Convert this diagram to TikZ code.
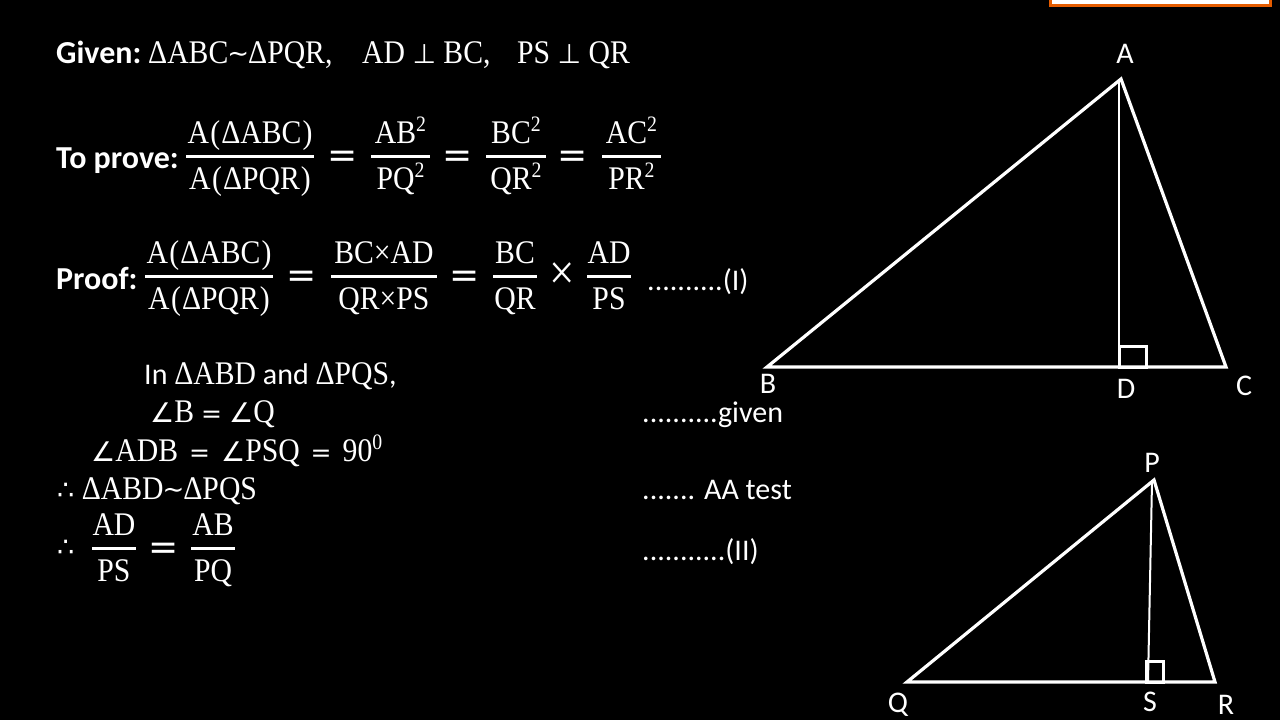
\documentclass[tikz,border=0pt]{standalone}
\usepackage{fontspec}
\setmainfont{Carlito}
\newfontfamily\camf[FakeStretch=0.90]{Liberation Serif}
\newfontfamily\symf{DejaVu Sans}
\newcommand{\cam}{\fontsize{33}{36}\selectfont\camf}
\newcommand{\sym}[1]{{\fontsize{27}{28}\selectfont\symf #1}}
\newcommand{\sq}[1]{\raisebox{12pt}{\fontsize{22}{22}\selectfont #1}}
\newcommand{\ar}[1]{A\kern1.5pt(\kern1pt#1\kern1pt)}
\newcommand{\simi}{\raisebox{1pt}{{\fontsize{26}{28}\selectfont\symf\kern-1pt∼\kern-1pt}}}
\newcommand{\eqs}{{\fontsize{25}{25}\selectfont\symf =}}
\tikzset{
  mth/.style={text=white,inner sep=0pt,font=\cam},
  opr/.style={text=white,inner sep=0pt,font=\fontsize{36}{38}\selectfont\symf},
  tms/.style={text=white,inner sep=0pt,font=\fontsize{50}{50}\selectfont\camf},
  txt/.style={text=white,inner sep=0pt,font=\fontsize{30}{34}\selectfont,anchor=base west},
  bld/.style={txt,font=\fontsize{32}{34}\selectfont\bfseries},
  lbl/.style={text=white,inner sep=0pt,font=\fontsize{30}{32}\selectfont,anchor=center},
  bar/.style={white,line width=3pt},
  tri/.style={white,line width=3.2pt,line join=miter},
  alt/.style={white,line width=2pt},
  sqr/.style={white,line width=3pt},
}
% \fr{left}{right}{rule y}{numerator}{denominator}
\newcommand{\fr}[5]{%
  \path[bar,draw] (#1,#3) -- (#2,#3);
  \node[mth,anchor=base] at ({(#1+#2)/2},#3-13) {#4};
  \node[mth,anchor=base] at ({(#1+#2)/2},#3+33) {#5};
}
\begin{document}
\begin{tikzpicture}[x=1pt,y=-1pt]
\useasboundingbox (0,0) rectangle (1280,720);
\fill[black] (0,0) rectangle (1280,720);
% orange box
\path[fill=white,draw=orange!80!red!90!black,line width=3pt] (1050,-5) rectangle (1270,5);
% Given
\node[bld] (given) at (56,63) {Given:};
\node[mth,anchor=base west] (g1) at (148,63) {ΔABC\simi ΔPQR,};
\node[mth,anchor=base west] (g2) at (362,63) {AD \sym{⊥} BC,};
\node[mth,anchor=base west] (g3) at (517,63) {PS \sym{⊥} QR};
% To prove
\node[bld] (prove) at (56,168) {To prove:};
\fr{186}{314}{156}{\ar{ΔABC}}{\ar{ΔPQR}}
\node[opr] (e1) at (343,159) {=};
\fr{371}{430}{156}{AB\sq{2}}{PQ\sq{2}}
\node[opr] (e2) at (458,159) {=};
\fr{486}{546}{156}{BC\sq{2}}{QR\sq{2}}
\node[opr] (e3) at (573,159) {=};
\fr{602}{661}{156}{AC\sq{2}}{PR\sq{2}}
% Proof
\node[bld] (proof) at (56,289) {Proof:};
\fr{145}{273}{276}{\ar{ΔABC}}{\ar{ΔPQR}}
\node[opr] (e4) at (302,279) {=};
\fr{331}{437}{276}{BC×AD}{QR×PS}
\node[opr] (e5) at (465,279) {=};
\fr{493}{537}{276}{BC}{QR}
\node[tms] (x1) at (562,276) {×};
\fr{587}{631}{276}{AD}{PS}
\node[txt] (i1) at (647,290) {..........(I)};
% In triangle
\node[txt] (in) at (144,384) {In {\cam ΔABD} and {\cam ΔPQS},};
\node[mth,anchor=base west] (a1) at (150,422) {\sym{∠}B\kern7pt\eqs\kern7pt\sym{∠}Q};
\node[mth,anchor=base west] (a2) at (91,461) {\sym{∠}ADB\kern11pt\eqs\kern11pt\sym{∠}PSQ\kern11pt\eqs\kern11pt90\sq{0}};
\node[mth,anchor=base west] (a3) at (57,499) {\sym{∴} ΔABD\simi ΔPQS};
\node[mth,anchor=base west] (a4) at (57,556) {\sym{∴}};
\fr{92}{136}{548}{AD}{PS}
\node[opr] (e6) at (164,551) {=};
\fr{191}{235}{548}{AB}{PQ}
\node[txt] (r1) at (642,422) {..........given};
\node[txt] (r2) at (642,499) {....... AA test};
\node[txt] (r3) at (642,560) {...........(II)};
% big triangle
\coordinate (A) at (1121,79);
\coordinate (B) at (767,367);
\coordinate (C) at (1226,367);
\coordinate (D) at (1119,367);
\draw[tri] (A) -- (B) -- (C) -- cycle;
\draw[alt] (1119,81) -- (D);
\draw[sqr] (D) ++(0,-21) rectangle ++(27,21);
\node[lbl] (lA) at (1125,54) {A};
\node[lbl] (lB) at (768,384) {B};
\node[lbl] (lC) at (1244,386) {C};
\node[lbl] (lD) at (1126,389) {D};
% small triangle
\coordinate (P) at (1154,480);
\coordinate (Q) at (907,682);
\coordinate (R) at (1215,682);
\coordinate (S) at (1148,682);
\draw[tri] (P) -- (Q) -- (R) -- cycle;
\draw[alt] (1152,482) -- (S);
\draw[sqr] (1146,661) rectangle (1163,682);
\node[lbl] (lP) at (1152,463) {P};
\node[lbl] (lQ) at (898,705) {Q};
\node[lbl] (lS) at (1150,702) {S};
\node[lbl] (lR) at (1226,705) {R};
\end{tikzpicture}
\end{document}
